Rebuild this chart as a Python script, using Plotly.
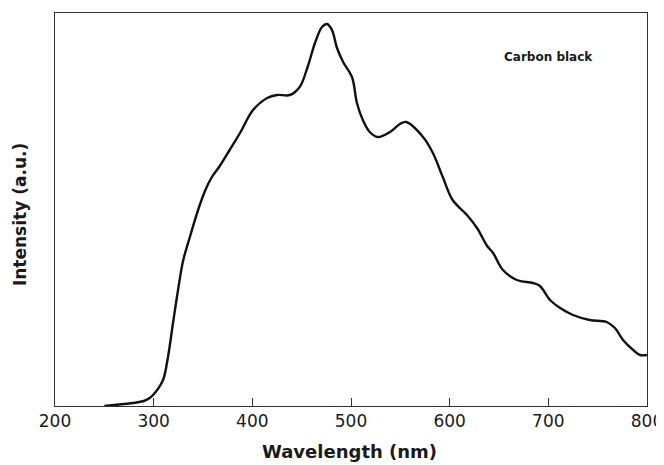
import plotly.graph_objects as go

wavelength = [250, 260, 279, 290, 296, 302, 309.5, 314.5, 319.6, 324.7, 330, 337, 345, 352, 359,
              367, 377, 387.5, 400.7, 415, 425, 438, 448, 456, 463.5, 470.6, 475.7, 480.7,
              485.8, 492, 501, 506, 512, 519, 527, 539.5, 549.6, 556, 573, 583, 593, 603,
              617.5, 627.7, 638, 644, 654, 668, 684.5, 691.5, 701.7, 712, 725, 742, 759,
              767.5, 775.7, 786, 793, 800]
intensity = [0, 1, 3, 5, 8, 14, 26, 49, 83, 116, 146, 170, 196, 215, 229,
             240, 256, 273, 296, 308, 311, 311, 319, 339, 363, 379, 382, 376,
             358, 344, 329, 303, 286, 274, 269, 274, 282, 284, 269, 253, 229, 206,
             191, 178, 160, 153, 136, 126, 123, 120, 106, 98, 91, 86, 84,
             78, 66, 56, 51, 51]

x_ticks = [200, 300, 400, 500, 600, 700, 800]
sample_label = "Carbon black"
x_title = "Wavelength (nm)"
y_title = "Intensity (a.u.)"

ink = "#1a1a1a"

fig = go.Figure()
fig.add_trace(go.Scatter(
    x=wavelength, y=intensity, mode="lines",
    line=dict(color="#111111", width=2.4, shape="spline", smoothing=1.0),
    showlegend=False, hoverinfo="skip"))

fig.add_annotation(x=0.833, y=0.888, xref="paper", yref="paper", text="<b>" + sample_label + "</b>",
                   xanchor="center", yanchor="middle", showarrow=False,
                   font=dict(family="DejaVu Sans", size=12, color=ink))
fig.add_annotation(x=0.498, y=-0.115, xref="paper", yref="paper", text="<b>" + x_title + "</b>",
                   xanchor="center", yanchor="middle", showarrow=False,
                   font=dict(family="DejaVu Sans", size=18, color=ink))
fig.add_annotation(x=-0.059, y=0.486, xref="paper", yref="paper", text="<b>" + y_title + "</b>",
                   xanchor="center", yanchor="middle", textangle=-90, showarrow=False,
                   font=dict(family="DejaVu Sans", size=17, color=ink))

tick_font = dict(family="DejaVu Sans", size=17, color=ink)

fig.update_layout(
    width=656, height=457,
    margin=dict(l=47, r=17, t=5, b=59, autoexpand=False),
    paper_bgcolor="white", plot_bgcolor="white",
    xaxis=dict(range=[200, 800], tickvals=x_ticks, ticktext=[str(v) for v in x_ticks],
               ticks="inside", ticklen=8, tickwidth=1, tickcolor="#333333",
               showgrid=False, zeroline=False, showline=True, linecolor="#333333",
               linewidth=1, mirror=True, automargin=False, tickfont=tick_font),
    yaxis=dict(range=[0, 393], showticklabels=False, ticks="", showgrid=False,
               zeroline=False, showline=True, linecolor="#333333", linewidth=1, mirror=True,
               automargin=False),
)

fig.write_html("out.html")
